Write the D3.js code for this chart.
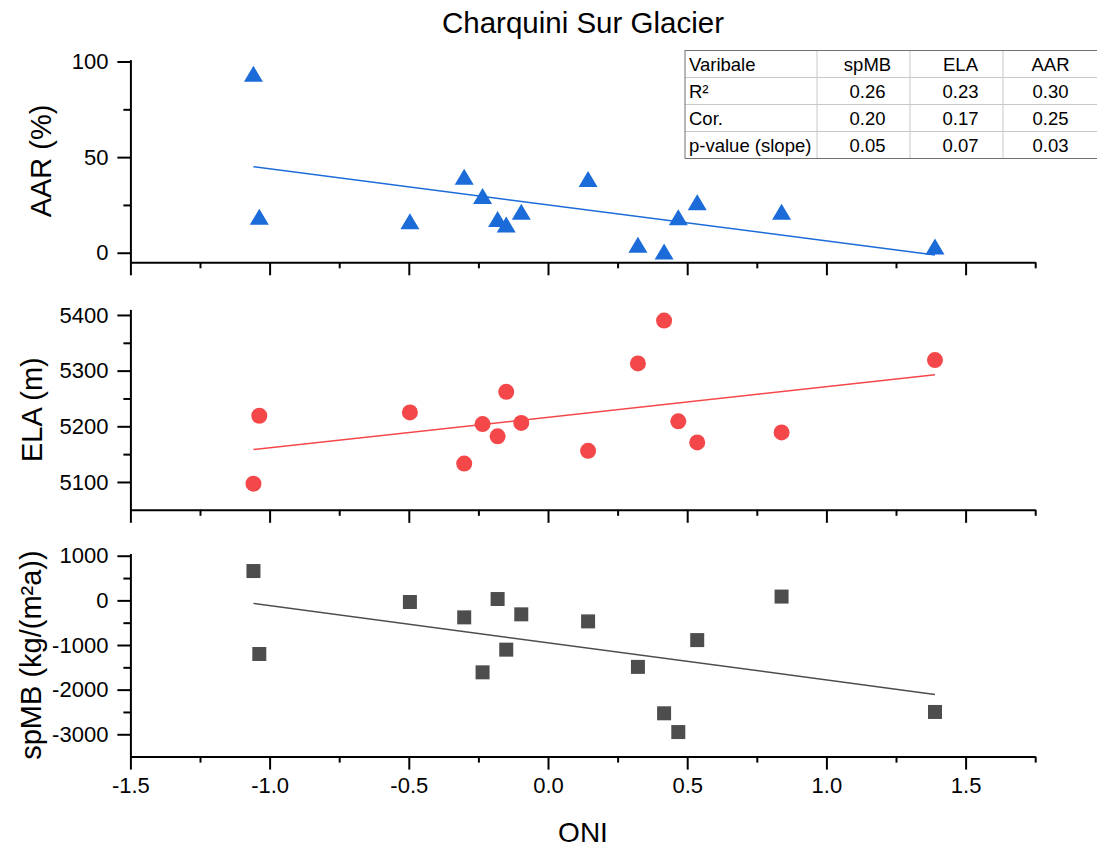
<!DOCTYPE html>
<html>
<head>
<meta charset="utf-8">
<script src="https://cdn.jsdelivr.net/npm/d3@7"></script>
<style>
    body { margin: 0; background: #fff; }
    svg { font-family: "Liberation Sans", Arial, sans-serif; }
</style>
</head>
<body>
<div id="chart"></div>
<script>
// ONI per year, shared x of the three panels
const oni = [-1.058, -1.037, -0.496, -0.301, -0.235, -0.181, -0.150, -0.096, 0.144, 0.323, 0.417, 0.468, 0.536, 0.839, 1.390];
const aar = [93.6, 18.8, 16.5, 39.7, 29.7, 17.6, 14.8, 21.4, 38.6, 4.2, 0.6, 18.5, 26.4, 21.5, 3.2];
const ela = [5097, 5219, 5225, 5133, 5204, 5182, 5262, 5206, 5156, 5313, 5390, 5209, 5171, 5189, 5319];
const spmb = [657, -1201, -37, -381, -1612, 30, -1104, -313, -471, -1490, -2530, -2950, -890, 85, -2500];

// Tick labels
const xTicks = [-1.5, -1.0, -0.5, 0.0, 0.5, 1.0, 1.5];
const xMinor = [-1.25, -0.75, -0.25, 0.25, 0.75, 1.25, 1.75];
const aarTicks = [0, 50, 100];
const aarMinor = [25, 75];
const elaTicks = [5100, 5200, 5300, 5400];
const elaMinor = [5150, 5250, 5350];
const spmbTicks = [-3000, -2000, -1000, 0, 1000];
const spmbMinor = [-2500, -1500, -500, 500];

// Stats table
const tableHeader = ["Varibale", "spMB", "ELA", "AAR"];
const tableRows = ["R²", "Cor.", "p-value (slope)"];
const statSpMB = [0.26, 0.20, 0.05];
const statELA = [0.23, 0.17, 0.07];
const statAAR = [0.30, 0.25, 0.03];

const width = 1097, height = 850;

const svg = d3.select("#chart")
    .append("svg")
    .attr("width", width)
    .attr("height", height);

// x-scale shared by the panels
const x = d3.scaleLinear()
    .domain([-1.5, 1.75])
    .range([130.4, 1035.2]);

// Least squares line
function fit(xs, ys) {
    const mx = d3.mean(xs), my = d3.mean(ys);
    const sxy = d3.sum(xs, (v, i) => (v - mx) * (ys[i] - my));
    const sxx = d3.sum(xs, v => (v - mx) ** 2);
    const b = sxy / sxx;
    return v => my + b * (v - mx);
}

const panels = [
    {values: aar, label: "AAR (%)", domain: [-5, 101], range: [262.3, 59.6],
        ticks: aarTicks, minor: aarMinor, color: "#1b6bd9", shape: "triangle", labelX: 51},
    {values: ela, label: "ELA (m)", domain: [5050, 5410], range: [509.8, 309.4],
        ticks: elaTicks, minor: elaMinor, color: "#f4474a", shape: "circle", labelX: 42},
    {values: spmb, label: "spMB (kg/(m²a))", domain: [-3500, 1050], range: [756.6, 553.5],
        ticks: spmbTicks, minor: spmbMinor, color: "#4d4d4d", shape: "square", labelX: 41}
];

panels.forEach((p, k) => {
    const y = d3.scaleLinear().domain(p.domain).range(p.range);
    const g = svg.append("g");
    const last = k === panels.length - 1;

    // Regression line
    const f = fit(oni, p.values);
    const ends = d3.extent(oni);
    g.append("path")
        .datum(ends)
        .attr("fill", "none")
        .attr("stroke", p.color)
        .attr("stroke-width", 1.5)
        .attr("d", d3.line().x(d => x(d)).y(d => y(f(d))));

    // Markers
    const pts = g.append("g")
        .selectAll("path")
        .data(p.values)
        .join("path")
        .attr("fill", p.color)
        .attr("transform", (d, i) => `translate(${x(oni[i])},${y(d)})`);
    if (p.shape === "triangle") pts.attr("d", "M0,-8L9.5,8L-9.5,8Z");
    if (p.shape === "circle") pts.attr("d", d3.symbol().type(d3.symbolCircle).size(Math.PI * 64));
    if (p.shape === "square") pts.attr("d", "M-7,-7H7V7H-7Z");

    // y-axis, minor then major
    g.append("g")
        .attr("transform", `translate(${x.range()[0]},0)`)
        .call(d3.axisLeft(y).tickValues(p.minor).tickSize(7).tickSizeOuter(0).tickFormat(""))
        .call(a => a.select(".domain").remove())
        .selectAll("line").attr("stroke-width", 2);
    const ya = g.append("g")
        .attr("transform", `translate(${x.range()[0]},0)`)
        .call(d3.axisLeft(y).tickValues(p.ticks).tickSize(13).tickSizeOuter(0).tickPadding(9)
            .tickFormat(d => String(d)));
    ya.select(".domain").attr("stroke-width", 2);
    ya.selectAll("line").attr("stroke-width", 2);
    ya.selectAll("text").attr("font-size", 22);
    ya.attr("font-family", null);

    // x-axis, minor then major
    const base = y.range()[0];
    g.append("g")
        .attr("transform", `translate(0,${base})`)
        .call(d3.axisBottom(x).tickValues(xMinor).tickSize(6).tickSizeOuter(0).tickFormat(""))
        .call(a => a.select(".domain").remove())
        .selectAll("line").attr("stroke-width", 2);
    const xa = g.append("g")
        .attr("transform", `translate(0,${base})`)
        .call(d3.axisBottom(x).tickValues(xTicks).tickSize(13).tickSizeOuter(0).tickPadding(8)
            .tickFormat(d => last ? d.toFixed(1) : ""));
    xa.select(".domain").attr("stroke-width", 2);
    xa.selectAll("line").attr("stroke-width", 2);
    xa.selectAll("text").attr("font-size", 22);
    xa.attr("font-family", null);

    // y-axis label
    svg.append("text")
        .attr("transform", `translate(${p.labelX},${(p.range[0] + p.range[1]) / 2}) rotate(-90)`)
        .attr("text-anchor", "middle")
        .attr("font-size", 29)
        .text(p.label);
});

// Title
svg.append("text")
    .attr("x", 583)
    .attr("y", 33)
    .attr("text-anchor", "middle")
    .attr("font-size", 29.5)
    .text("Charquini Sur Glacier");

// x-axis label
svg.append("text")
    .attr("x", 583)
    .attr("y", 842)
    .attr("text-anchor", "middle")
    .attr("font-size", 28)
    .text("ONI");

// Stats table (last border sits past the right edge of the picture)
const colX = [685, 817, 910, 1003, 1090];
const rowTop = 50.5, rowH = 27;
const tableData = [tableHeader].concat(tableRows.map((r, i) =>
    [r, statSpMB[i].toFixed(2), statELA[i].toFixed(2), statAAR[i].toFixed(2)]));

const tbl = svg.append("g");
for (let r = 1; r < tableData.length; r++) {
    tbl.append("line")
        .attr("x1", colX[0]).attr("x2", width + 10)
        .attr("y1", rowTop + r * rowH).attr("y2", rowTop + r * rowH)
        .attr("stroke", "#c8c8c8");
}
for (let c = 1; c < colX.length - 1; c++) {
    tbl.append("line")
        .attr("x1", colX[c]).attr("x2", colX[c])
        .attr("y1", rowTop).attr("y2", rowTop + tableData.length * rowH)
        .attr("stroke", "#c8c8c8");
}
tbl.append("rect")
    .attr("x", colX[0]).attr("y", rowTop)
    .attr("width", width + 10 - colX[0])
    .attr("height", tableData.length * rowH)
    .attr("fill", "none")
    .attr("stroke", "#707070");

tableData.forEach((row, r) => {
    row.forEach((v, c) => {
        tbl.append("text")
            .attr("x", c === 0 ? colX[0] + 4 : (colX[c] + colX[c + 1]) / 2 + 4)
            .attr("y", rowTop + r * rowH + rowH / 2 + 7)
            .attr("text-anchor", c === 0 ? "start" : "middle")
            .attr("font-size", 18.5)
            .text(v);
    });
});
</script>
</body>
</html>
